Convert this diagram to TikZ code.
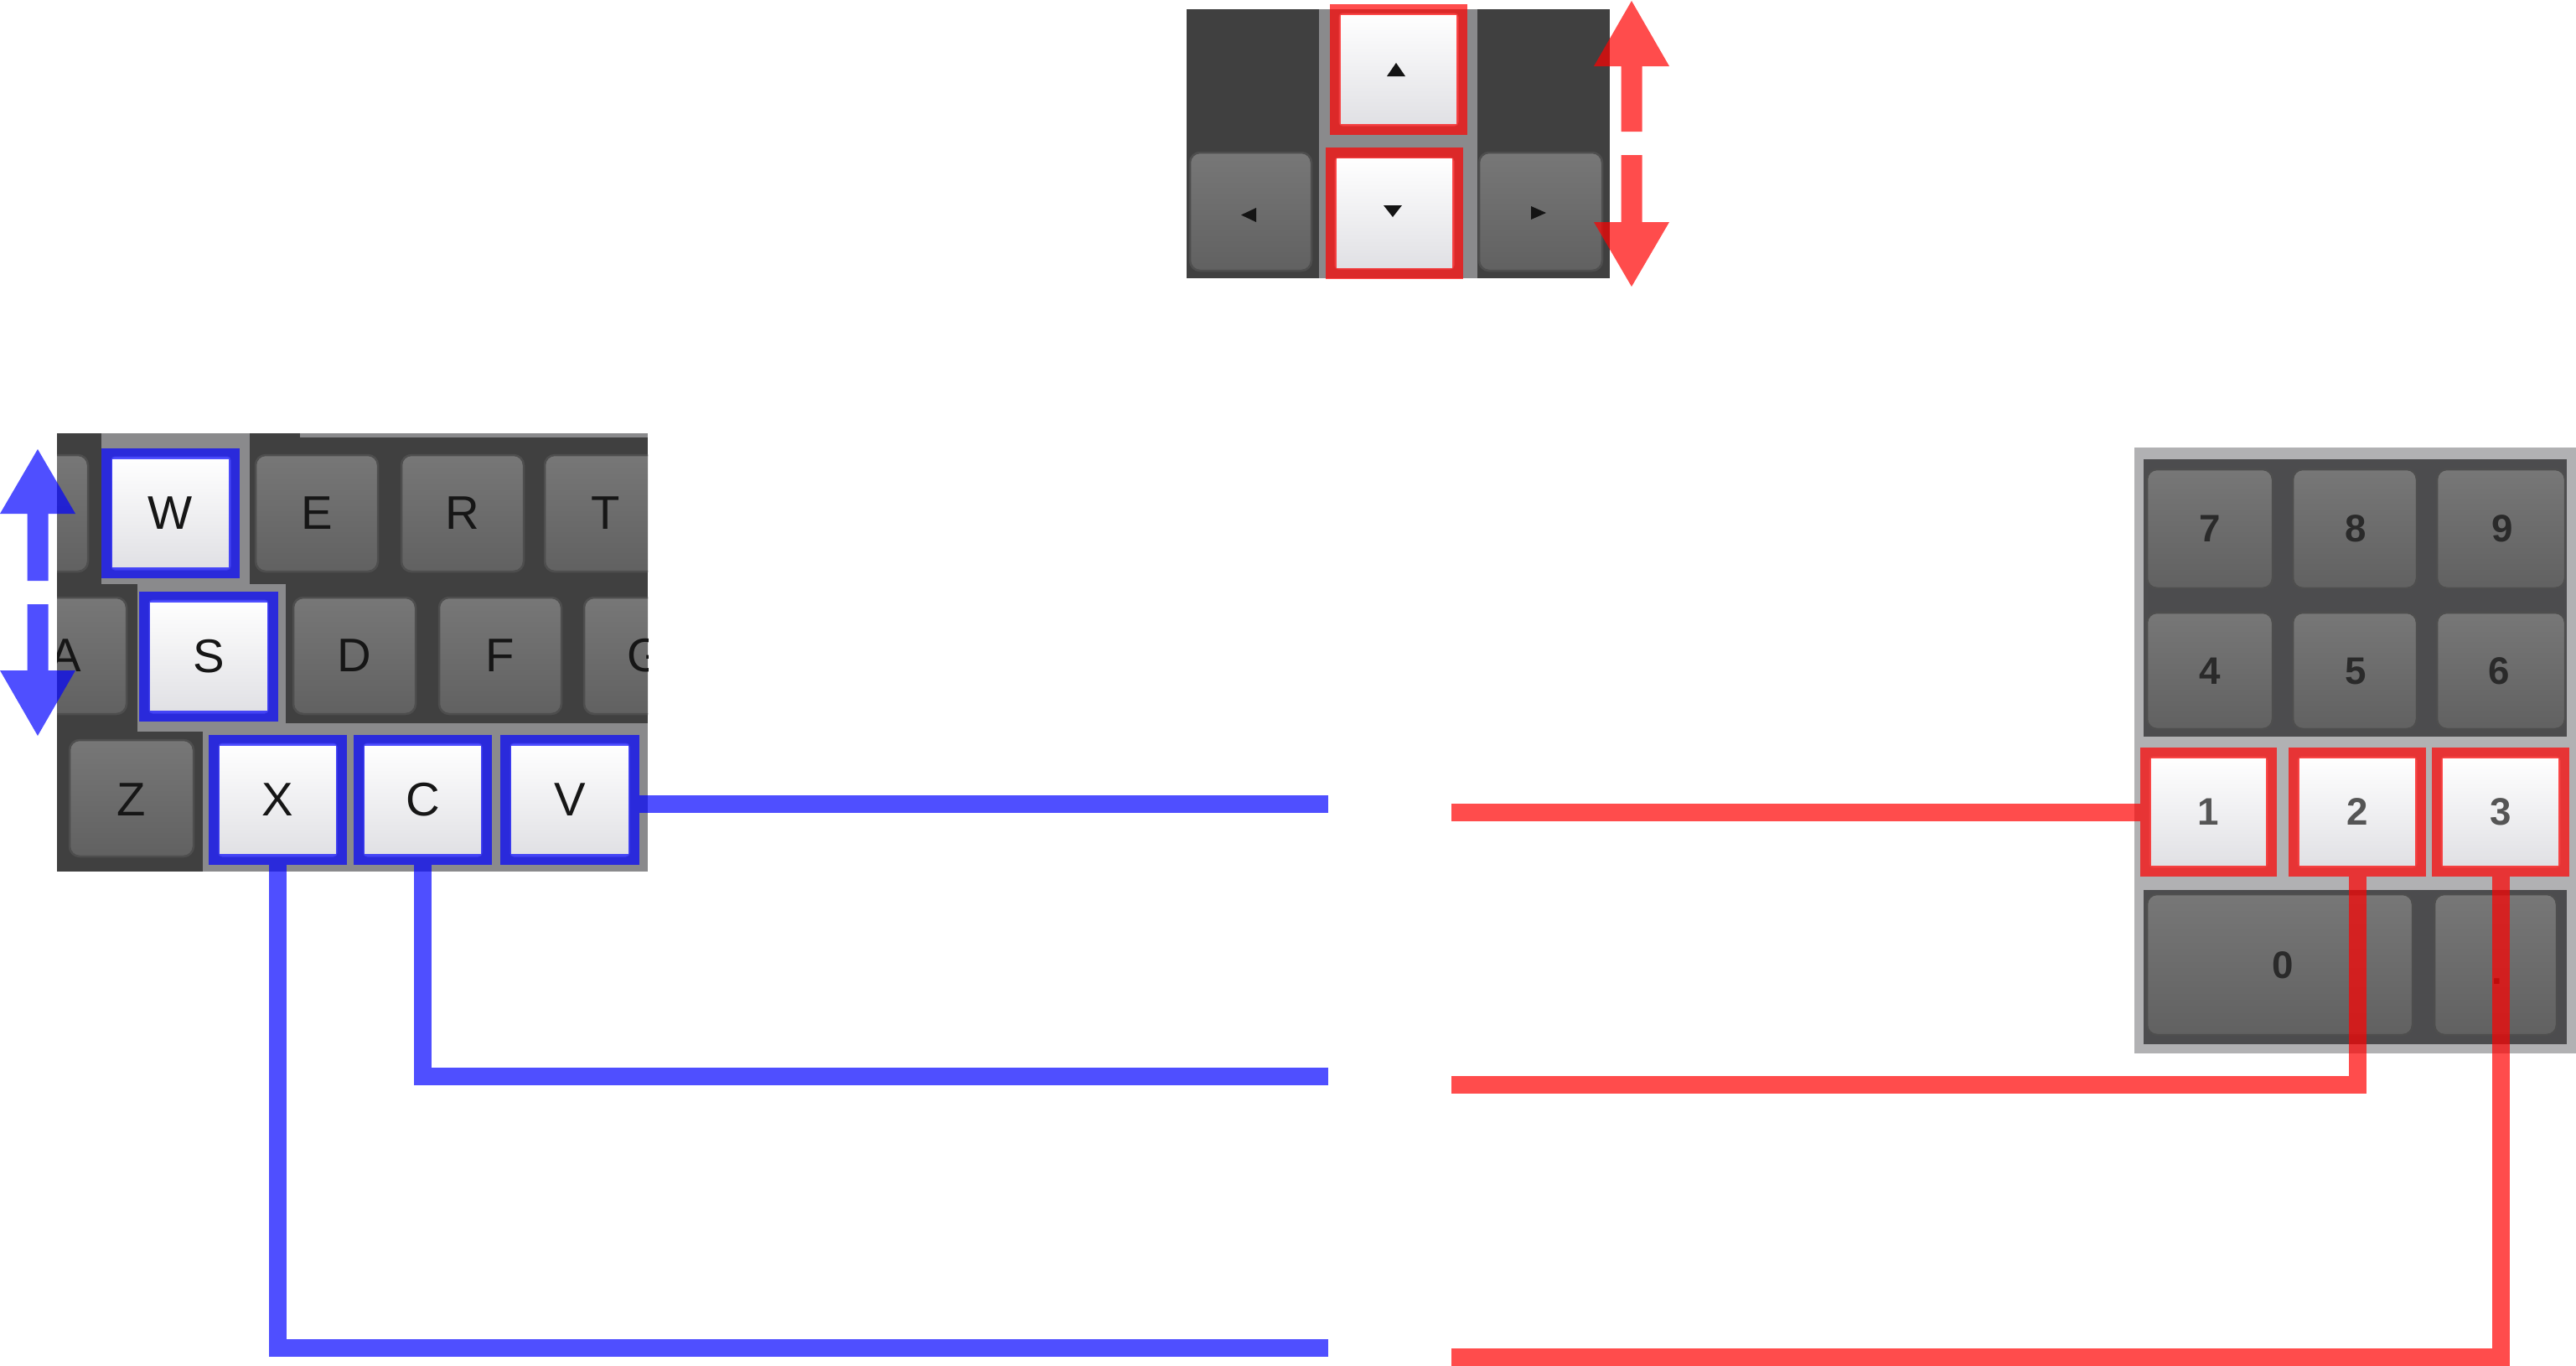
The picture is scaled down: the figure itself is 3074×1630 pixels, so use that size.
\documentclass[tikz,border=0pt]{standalone}
\usepackage{fontspec}
\setmainfont{Liberation Sans}
\definecolor{kbdark}{HTML}{404040}
\definecolor{kbgray}{HTML}{8A8A8C}
\definecolor{npgray}{HTML}{B1B1B3}
\definecolor{npdark}{HTML}{4C4C4E}
\definecolor{keytop}{HTML}{777777}
\definecolor{keybot}{HTML}{616161}
\definecolor{keyline}{HTML}{4E4E4E}
\definecolor{wkbot}{HTML}{E0E0E4}
\definecolor{wkline}{HTML}{C8C8CC}
\definecolor{lblblack}{HTML}{161616}
\definecolor{numdark}{HTML}{2A2A2A}
\definecolor{numlight}{HTML}{555555}
\tikzset{
  graykey/.style={top color=keytop, bottom color=keybot, draw=keyline, line width=0.025cm, rounded corners=0.12cm},
  whitekey/.style={top color=white, bottom color=wkbot, draw=wkline, line width=0.01cm, rounded corners=0.04cm},
  keylbl/.style={font=\fontsize{16}{16}\selectfont, text=lblblack, inner sep=0pt},
  numlbl/.style={font=\fontsize{13}{13}\selectfont\bfseries, text=numdark, inner sep=0pt},
  bluefr/.style={draw=blue, draw opacity=0.69, line width=0.13cm, minimum width=1.52cm, minimum height=1.42cm, inner sep=0pt, keylbl},
  redfr/.style={draw=red, draw opacity=0.7, line width=0.13cm, minimum width=1.50cm, minimum height=1.41cm, inner sep=0pt, numlbl, text=numlight},
  arrfr/.style={draw=red, draw opacity=0.7, line width=0.13cm, minimum width=1.51cm, minimum height=1.43cm, inner sep=0pt},
  bluewire/.style={draw=blue, opacity=0.69, line width=0.21cm},
  redwire/.style={draw=red, opacity=0.7, line width=0.21cm},
  bluearrow/.style={fill=blue, opacity=0.69},
  redarrow/.style={fill=red, opacity=0.7},
  tri/.style={fill=black!92}
}
\begin{document}
\begin{tikzpicture}[x=0.01cm,y=-0.01cm]
\useasboundingbox (0,0) rectangle (3074,1630);

% ---------------- arrow keys block ----------------
\fill[kbdark] (1416,11) rectangle (1921,332);
\fill[kbgray] (1574,11) rectangle (1763,332);
\path[graykey] (1420,182) rectangle (1565,323);
\path[graykey] (1765,182) rectangle (1912,323);
\path[whitekey] (1598,16) rectangle (1740,150);
\path[whitekey] (1593,188) rectangle (1735,321);
\fill[tri] (1655,91) -- (1677,91) -- (1666,75) -- cycle;
\fill[tri] (1651,245) -- (1673,245) -- (1662,259) -- cycle;
\fill[tri] (1499,248) -- (1499,265) -- (1481,256.5) -- cycle;
\fill[tri] (1827,246) -- (1827,262) -- (1845,254) -- cycle;
\node[arrfr] (kUp) at (1669,83) {};
\node[arrfr] (kDown) at (1664,254.5) {};

% ---------------- letter keyboard ----------------
\fill[kbdark] (68,517) rectangle (773,1040);
\fill[kbgray] (358,517) rectangle (773,522);
\fill[kbgray] (121,517) rectangle (298,697);
\fill[kbgray] (164,697) rectangle (341,873);
\fill[kbgray] (164,863) rectangle (773,873);
\fill[kbgray] (242,863) rectangle (773,1040);
\begin{scope}
  \clip (68,517) rectangle (773,1040);
  \path[graykey] (-40,543) rectangle (105,682);
  \path[graykey] (650,543) rectangle (796,682);
  \path[graykey] (5,713) rectangle (151,852);
  \path[graykey] (697,713) rectangle (843,852);
  \node[keylbl] (lA) at (78,782) {A};
  \node[keylbl] (lT) at (723,612) {T};
  \node[keylbl] (lG) at (770,782) {G};
\end{scope}
\path[graykey] (305,543) rectangle (451,682);
\path[graykey] (479,543) rectangle (625,682);
\path[graykey] (350,713) rectangle (496,852);
\path[graykey] (524,713) rectangle (670,852);
\path[graykey] (83,883) rectangle (231,1022);
\node[keylbl] (lE) at (378,612) {E};
\node[keylbl] (lR) at (552,612) {R};
\node[keylbl] (lD) at (423,782) {D};
\node[keylbl] (lF) at (597,782) {F};
\node[keylbl] (lZ) at (157,954) {Z};
\path[whitekey] (133,545) rectangle (275,680);
\path[whitekey] (178,716) rectangle (320,851);
\path[whitekey] (261,887) rectangle (402,1022);
\path[whitekey] (434,887) rectangle (575,1022);
\path[whitekey] (609,887) rectangle (751,1022);
\node[bluefr] (kW) at (203.5,612.5) {W};
\node[bluefr] (kS) at (249,783.5) {S};
\node[bluefr] (kX) at (331.5,954.5) {X};
\node[bluefr] (kC) at (504.5,954.5) {C};
\node[bluefr] (kV) at (680,954.5) {V};

% ---------------- numeric keypad ----------------
\fill[npgray] (2547,534) rectangle (3074,1257);
\fill[npdark] (2558,548) rectangle (3063,879);
\fill[npdark] (2558,1062) rectangle (3063,1246);
\path[graykey] (2562,560) rectangle (2712,702);
\path[graykey] (2736,560) rectangle (2884,702);
\path[graykey] (2908,560) rectangle (3061,702);
\path[graykey] (2562,731) rectangle (2712,870);
\path[graykey] (2736,731) rectangle (2884,870);
\path[graykey] (2908,731) rectangle (3061,870);
\path[graykey] (2562,1067) rectangle (2879,1235);
\path[graykey] (2905,1067) rectangle (3051,1235);
\node[numlbl] (l7) at (2637,631) {7};
\node[numlbl] (l8) at (2811,631) {8};
\node[numlbl] (l9) at (2986,631) {9};
\node[numlbl] (l4) at (2637,801) {4};
\node[numlbl] (l5) at (2811,801) {5};
\node[numlbl] (l6) at (2982,801) {6};
\node[numlbl] (l0) at (2724,1152) {0};
\node[numlbl, anchor=base] (ldot) at (2980,1174) {.};
\path[whitekey] (2565,903) rectangle (2706,1035);
\path[whitekey] (2742,903) rectangle (2884,1035);
\path[whitekey] (2913,903) rectangle (3055,1035);
\node[redfr] (n1) at (2635.5,969) {1};
\node[redfr] (n2) at (2813,969) {2};
\node[redfr] (n3) at (2984,969) {3};

% ---------------- connectors ----------------
\coordinate (bV) at (1585,959);
\coordinate (bC) at (1585,1284);
\coordinate (bX) at (1585,1608);
\coordinate (r1) at (1732,969);
\coordinate (r2) at (1732,1294);
\coordinate (r3) at (1732,1619);
\draw[bluewire] (kV.east |- bV) -- (bV);
\draw[bluewire] (kC.south) |- (bC);
\draw[bluewire] (kX.south) |- (bX);
\draw[redwire] (r1) -- (n1.west);
\draw[redwire] (r2) -| (n2.south);
\draw[redwire] (r3) -| (n3.south);

% ---------------- dashed double arrows ----------------
\fill[redarrow] (1947,1) -- (1992,79) -- (1959.5,79) -- (1959.5,157) -- (1934.5,157) -- (1934.5,79) -- (1902,79) -- cycle;
\fill[redarrow] (1934.5,185) -- (1959.5,185) -- (1959.5,265) -- (1992,265) -- (1947,342) -- (1902,265) -- (1934.5,265) -- cycle;
\fill[bluearrow] (45,536) -- (90,613) -- (57.5,613) -- (57.5,693) -- (32.5,693) -- (32.5,613) -- (0,613) -- cycle;
\fill[bluearrow] (32.5,721) -- (57.5,721) -- (57.5,800) -- (90,800) -- (45,878) -- (0,800) -- (32.5,800) -- cycle;
\end{tikzpicture}
\end{document}
